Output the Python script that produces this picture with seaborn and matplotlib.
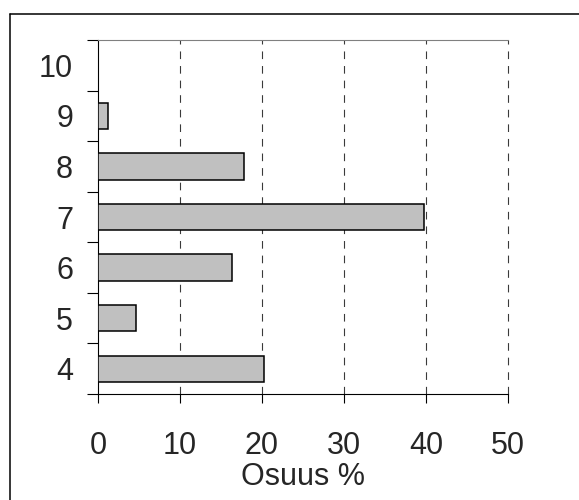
import matplotlib
matplotlib.use("Agg")
import matplotlib.pyplot as plt
from matplotlib.lines import Line2D
from matplotlib.ticker import FixedLocator, NullFormatter, FixedFormatter
import seaborn as sns
import pandas as pd

# Data: grade categories and their share (%)
grades = ["4", "5", "6", "7", "8", "9", "10"]
shares = [20.2, 4.6, 16.3, 39.7, 17.8, 1.25, 0.0]
x_ticks = [0, 10, 20, 30, 40, 50]
x_label = "Osuus %"

sns.set_style("white")
plt.rcParams["font.family"] = ["Liberation Sans Narrow", "Liberation Sans", "DejaVu Sans"]
plt.rcParams["lines.scale_dashes"] = False

df = pd.DataFrame({"grade": grades, "share": shares})
order = grades[::-1]  # highest grade on top

fig = plt.figure(figsize=(5.79, 5.0), dpi=100)
ax = fig.add_axes([98 / 579, 1 - 394 / 500, 410 / 579, 354 / 500])

sns.barplot(data=df, x="share", y="grade", order=order, orient="h",
            color="#c0c0c0", edgecolor="black", linewidth=1.1,
            width=0.52, saturation=1, ax=ax, zorder=3)

ax.set_xlim(0, 50)
ax.set_ylim(len(order) - 0.5, -0.5)

# dashed vertical gridlines
for v in x_ticks[1:]:
    ax.axvline(v, color="#3a3a3a", lw=0.8, dashes=(5.5, 5.0), zorder=1,
               clip_on=False)

# x axis
ax.set_xticks(x_ticks)
ax.set_xticklabels([str(t) for t in x_ticks])
ax.tick_params(axis="x", which="major", direction="out", length=6.5,
               width=0.8, color="black", pad=20, labelsize=22, bottom=True)
ax.set_xlabel(x_label, fontsize=22, labelpad=1)

# y axis: ticks between categories, labels at category centres
ax.yaxis.set_major_locator(FixedLocator([i - 0.5 for i in range(len(order) + 1)]))
ax.yaxis.set_major_formatter(NullFormatter())
ax.yaxis.set_minor_locator(FixedLocator(list(range(len(order)))))
ax.yaxis.set_minor_formatter(FixedFormatter(order))
ax.tick_params(axis="y", which="major", direction="out", length=8,
               width=0.8, color="black", left=True)
ax.tick_params(axis="y", which="minor", length=0, pad=18, labelsize=22, left=True)
ax.set_ylabel("")

for side in ["left", "bottom"]:
    ax.spines[side].set_color("black")
    ax.spines[side].set_linewidth(0.8)
ax.spines["top"].set_color("#808080")
ax.spines["top"].set_linewidth(0.8)
ax.spines["right"].set_visible(False)

# outer frame (left and top edges)
bx, by = 9.5 / 579, 1 - 13.5 / 500
fig.add_artist(Line2D([bx, bx], [0, by], transform=fig.transFigure,
                      color="black", lw=1.1))
fig.add_artist(Line2D([bx, 1], [by, by], transform=fig.transFigure,
                      color="black", lw=1.1))

fig.savefig("out.png", dpi=100, facecolor="white")
